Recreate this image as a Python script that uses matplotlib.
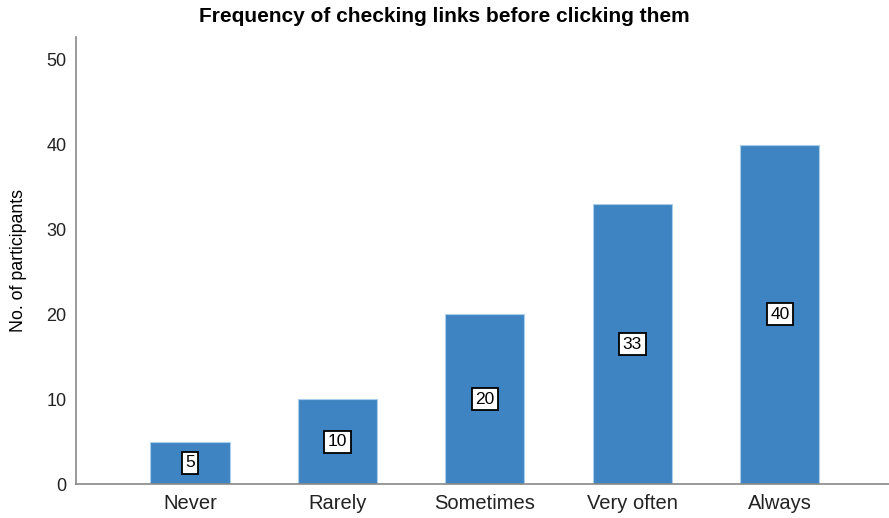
import matplotlib.pyplot as plt

categories = ['Never', 'Rarely', 'Sometimes', 'Very often', 'Always']
counts = [5, 10, 20, 33, 40]
yticks = [0, 10, 20, 30, 40, 50]

plt.rcParams['font.family'] = ['Liberation Sans', 'DejaVu Sans']

fig = plt.figure(figsize=(8.89, 5.18), dpi=100)
ax = fig.add_axes([0.0855, 0.0656, 0.9145, 0.863])

x = range(len(categories))
bars = ax.bar(x, counts, width=0.536, color='#3f84c2', edgecolor='#a9cdea', linewidth=0.8)

# value labels in boxes, at the middle of each bar
for xi, v in zip(x, counts):
    ax.text(xi, v / 2, str(v), ha='center', va='center', fontsize=12.5,
            bbox=dict(boxstyle='square,pad=0.2', facecolor='white',
                      edgecolor='black', linewidth=1.3))

ax.set_xlim(-0.773, 4.74)
ax.set_ylim(0, 52.7)
ax.set_xticks(list(x))
ax.set_xticklabels(categories, fontsize=14.5)
ax.set_yticks(yticks)
ax.set_yticklabels([str(t) for t in yticks], fontsize=13)
ax.tick_params(length=0, colors='#222222')
ax.tick_params(axis='x', pad=7)
ax.tick_params(axis='y', pad=7)

for side in ['top', 'right']:
    ax.spines[side].set_visible(False)
for side in ['left', 'bottom']:
    ax.spines[side].set_color('#888888')
    ax.spines[side].set_linewidth(1.2)

ax.set_ylabel('No. of participants', fontsize=12.8, labelpad=14)
fig.text(0.5, 1 - 17 / 518, 'Frequency of checking links before clicking them',
         ha='center', va='center', fontsize=15, fontweight='bold')

fig.savefig('out.png', dpi=100)
